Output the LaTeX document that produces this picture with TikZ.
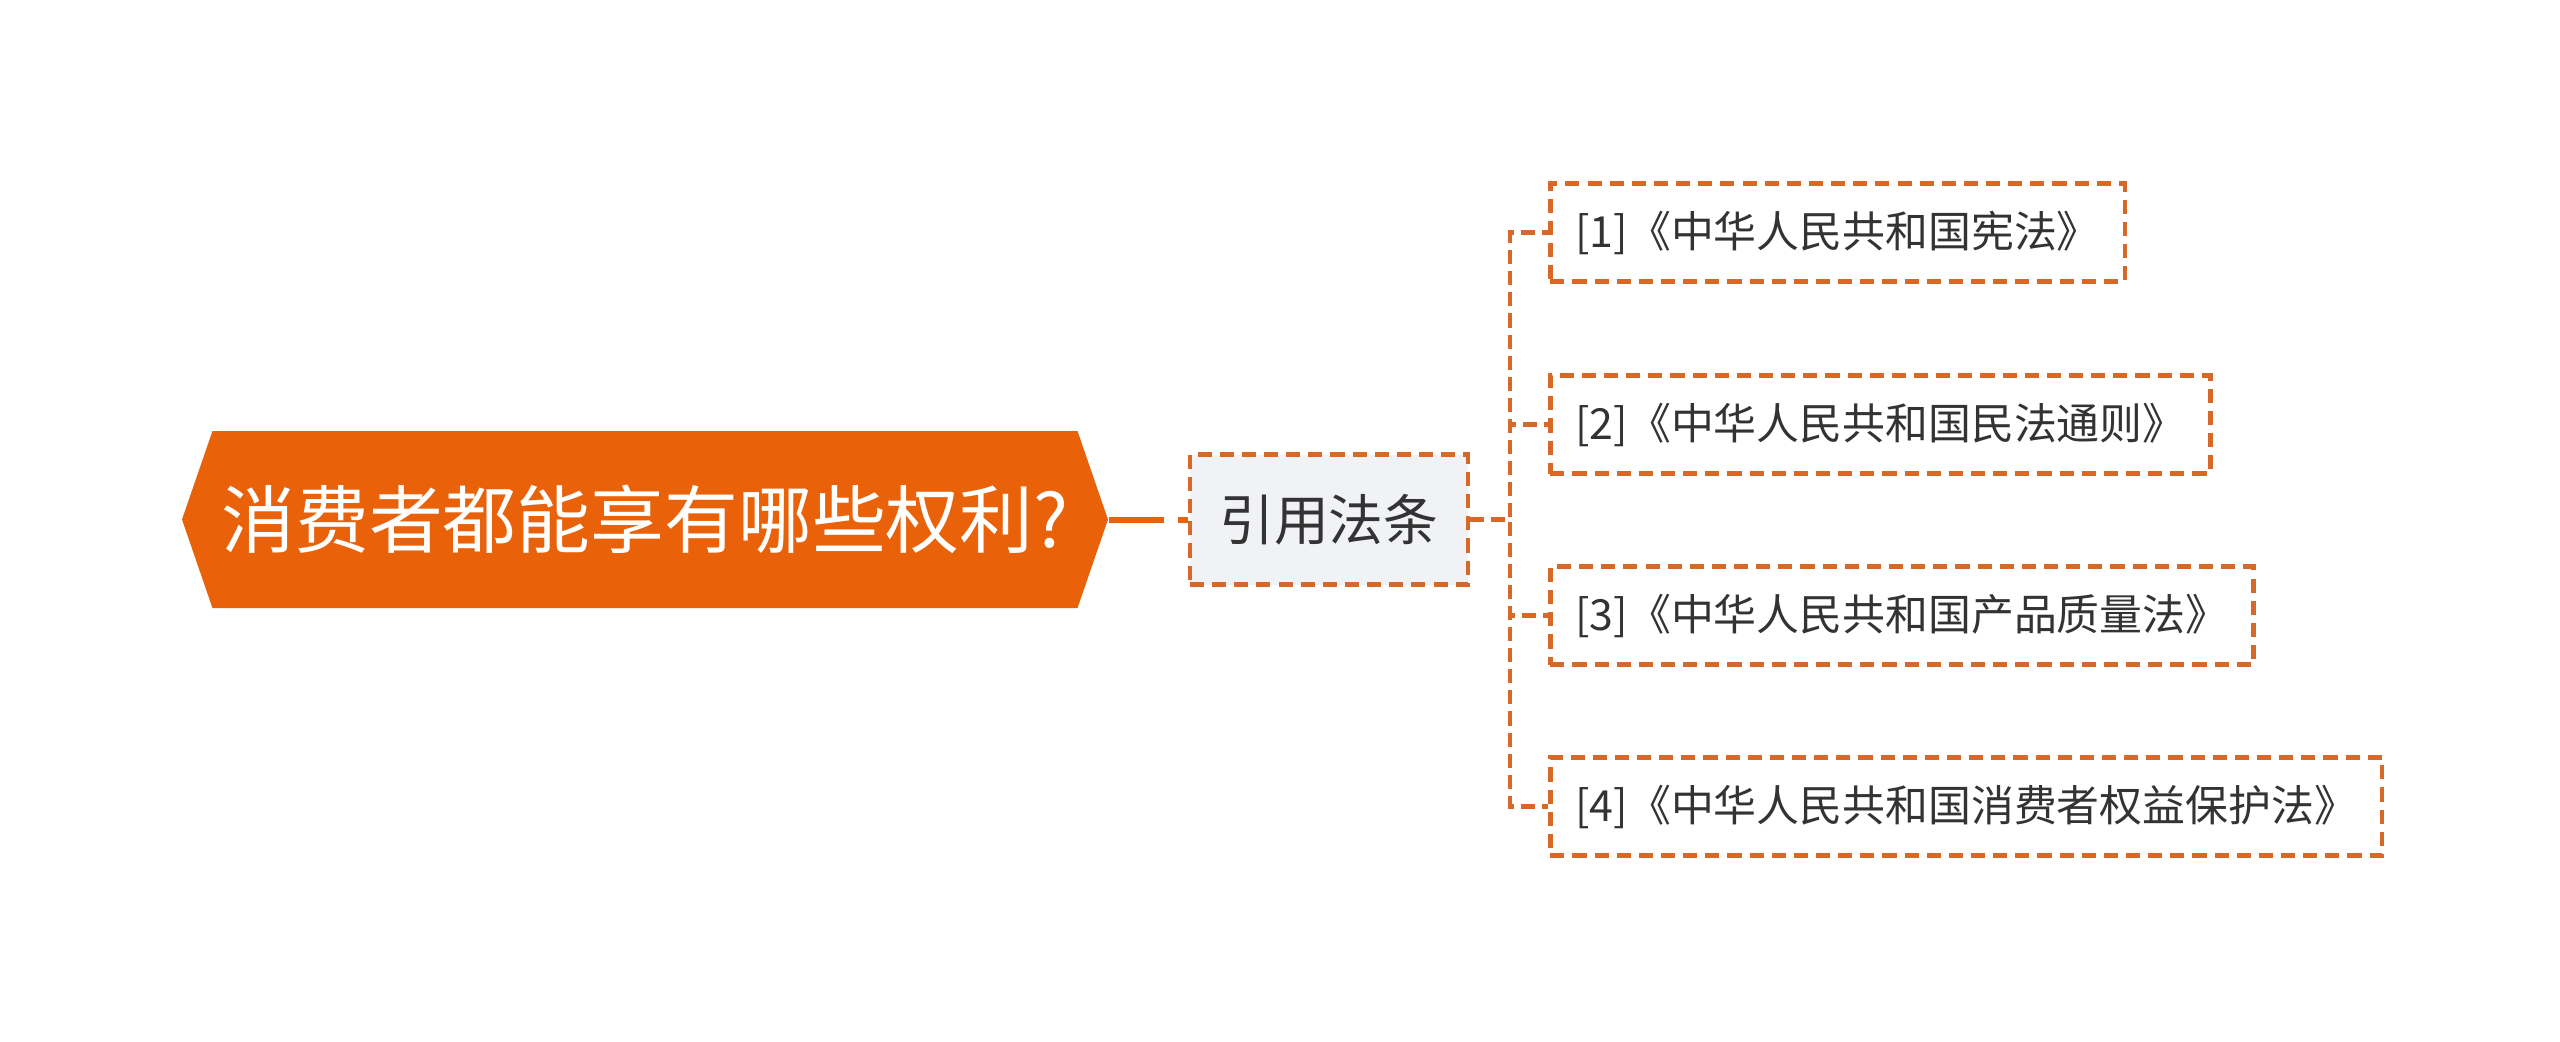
\documentclass[tikz,border=0pt]{standalone}
\usepackage{fontspec}
\setmainfont{Noto Sans CJK SC}
\usepackage{xcolor}
\usepackage{tikz}
\usetikzlibrary{positioning,shapes.symbols}
\definecolor{rootorange}{RGB}{233,98,10}
\definecolor{dashorange}{RGB}{215,104,40}
\definecolor{midgrey}{RGB}{240,242,245}
\definecolor{textgrey}{RGB}{51,51,51}

\begin{document}
\begin{tikzpicture}[
  topic/.style={signal, signal to=west and east, signal pointer angle=142,
    fill=rootorange, text=white, minimum width=9.26cm, minimum height=1.77cm,
    inner sep=0pt, font=\fontsize{21}{25}\selectfont},
  cite/.style={rectangle, draw=dashorange, fill=midgrey, line width=1.25pt,
    dash pattern=on 4pt off 2.3pt, minimum width=2.78cm, minimum height=1.30cm,
    text=textgrey, font=\fontsize{15.6}{19}\selectfont},
  law/.style={rectangle, draw=dashorange, fill=white, line width=1.25pt,
    dash pattern=on 4pt off 2.3pt, minimum height=0.98cm, inner xsep=0.25cm,
    text=textgrey, font=\fontsize{12.2}{15}\selectfont},
  link/.style={draw=dashorange, line width=1.25pt, dash pattern=on 4pt off 2pt},
  rootlink/.style={draw=rootorange, line width=1.7pt,
    dash pattern=on 0.55cm off 0.14cm on 0.3cm off 0.1cm}
]
\useasboundingbox (0,0) rectangle (25.6,-10.41);
\node[topic] (root) at (6.45,-5.195) {消费者都能享有哪些权利?};
\node[cite, right=0.79cm of root] (refs) {引用法条};
\node[law, right=0.78cm of refs, yshift=2.87cm] (law1) {[1]《中华人民共和国宪法》};
\node[law, right=0.78cm of refs, yshift=0.95cm] (law2) {[2]《中华人民共和国民法通则》};
\node[law, right=0.78cm of refs, yshift=-0.96cm] (law3) {[3]《中华人民共和国产品质量法》};
\node[law, right=0.78cm of refs, yshift=-2.87cm] (law4) {[4]《中华人民共和国消费者权益保护法》};
\draw[rootlink] (root.east) -- (refs.west);
\draw[link] (refs.east) -- ++(0.4,0) |- (law1.west);
\draw[link] (refs.east) -- ++(0.4,0) |- (law2.west);
\draw[link] (refs.east) -- ++(0.4,0) |- (law3.west);
\draw[link] (refs.east) -- ++(0.4,0) |- (law4.west);
\end{tikzpicture}
\end{document}
